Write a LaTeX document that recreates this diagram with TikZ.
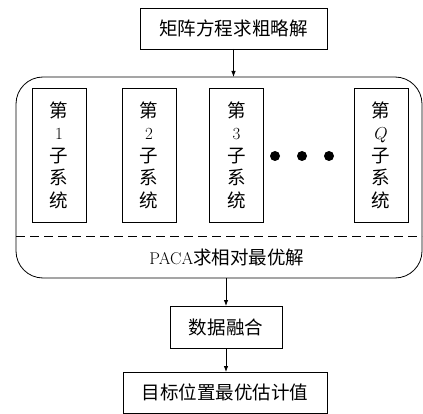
\documentclass[tikz,border=0pt]{standalone}
\usepackage{fontspec}
\newfontfamily\cjk[Scale=1.09]{Noto Sans CJK SC}
\usetikzlibrary{arrows.meta}
\begin{document}
\begin{tikzpicture}[x=1pt,y=-1pt,
  every node/.style={inner sep=0pt,outer sep=0pt},
  box/.style={draw,line width=0.8pt,font=\fontsize{17}{22.5}\selectfont},
  subbox/.style={box,minimum width=54pt,minimum height=134pt,align=center},
  arr/.style={line width=0.8pt,-{Latex[length=6pt,width=4.5pt]}},
  dot/.style={circle,fill=black,minimum size=10pt}
]
\useasboundingbox (0,0) rectangle (423,414);
\node[box,minimum width=187pt,minimum height=41pt] (top) at (233.5,28.5) {\cjk 矩阵方程求粗略解};
\node[draw,line width=0.8pt,rounded corners=27pt,minimum width=406pt,minimum height=201pt] (big) at (219,177.5) {};
\coordinate (dl) at (16,236);
\coordinate (dr) at (422,236);
\draw[line width=0.8pt,dash pattern=on 9pt off 5pt] (dl) -- (dr);
\node[font=\fontsize{17}{22.5}\selectfont] (paca) at (227,257) {PACA{\cjk 求相对最优解}};
\node[subbox] (s1) at (59,155) {\cjk 第\\1\\\cjk 子\\\cjk 系\\\cjk 统};
\node[subbox] (s2) at (149,155) {\cjk 第\\2\\\cjk 子\\\cjk 系\\\cjk 统};
\node[subbox] (s3) at (236.5,155) {\cjk 第\\3\\\cjk 子\\\cjk 系\\\cjk 统};
\node[subbox] (sq) at (381,155) {\cjk 第\\$Q$\\\cjk 子\\\cjk 系\\\cjk 统};
\node[dot] (d1) at (275,156) {};
\node[dot] (d2) at (302,156) {};
\node[dot] (d3) at (329,156) {};
\node[box,minimum width=112pt,minimum height=42pt] (fuse) at (226,327) {\cjk 数据融合};
\node[box,minimum width=204pt,minimum height=41pt] (fin) at (225,392.5) {\cjk 目标位置最优估计值};
\draw[arr] (top.south) -- (top.south |- big.north);
\draw[arr] (fuse.north |- big.south) -- (fuse.north);
\draw[arr] (fuse.south) -- (fin.north -| fuse.south);
\end{tikzpicture}
\end{document}
